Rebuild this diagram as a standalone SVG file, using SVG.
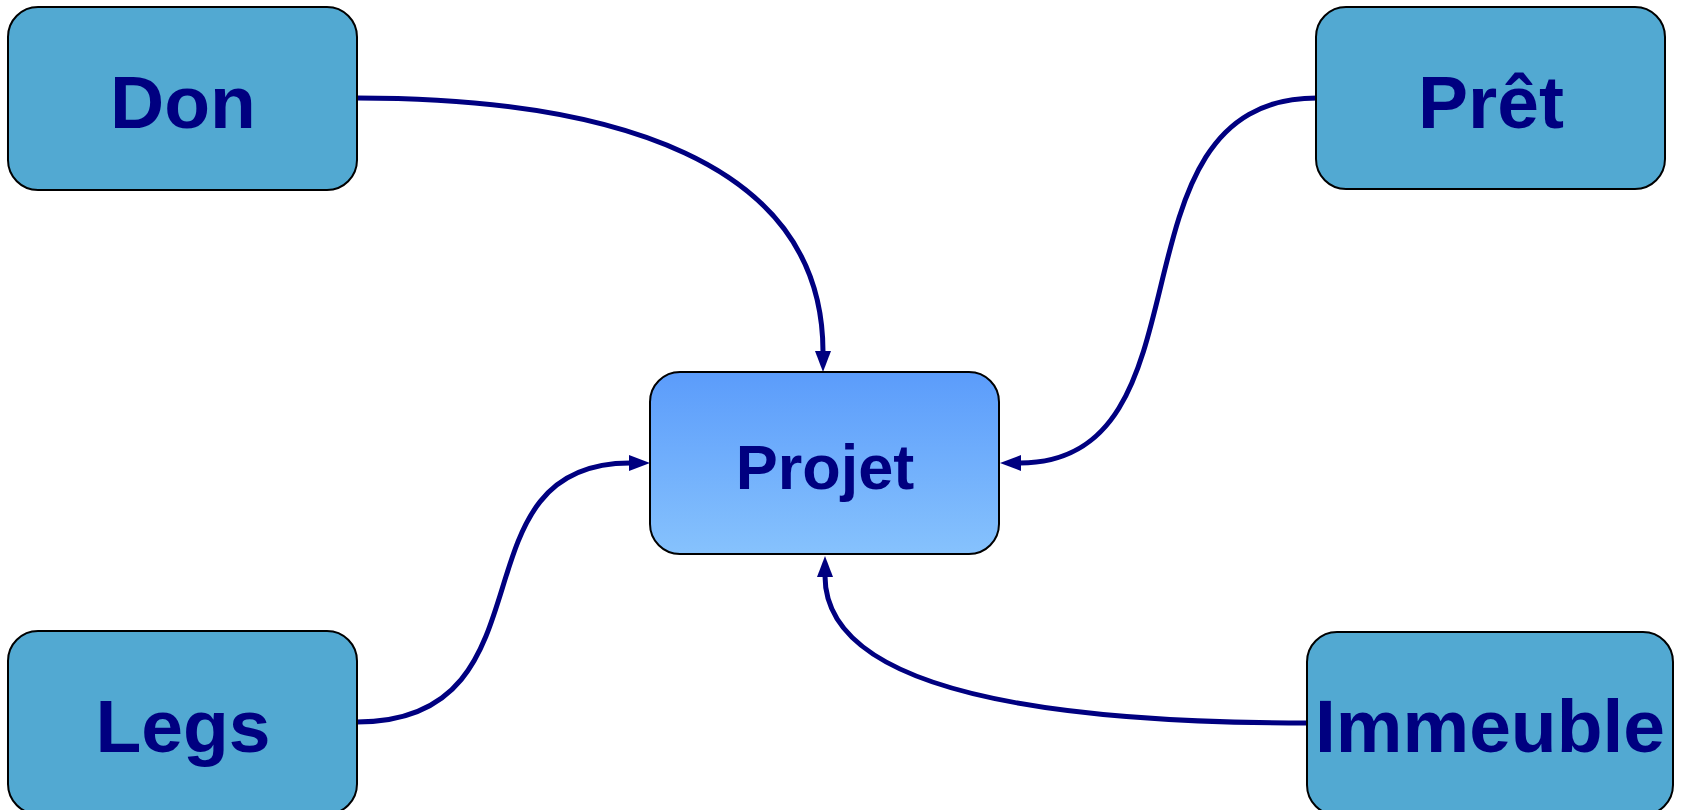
<svg xmlns="http://www.w3.org/2000/svg" width="1681" height="810" viewBox="0 0 1681 810">
<style>
.box{fill:#52a9d2;stroke:#000;stroke-width:2}
.lbl{font-family:"Liberation Sans",Arial,sans-serif;font-weight:bold;fill:#000080;text-anchor:middle}
.big{font-size:75px}
.mid{font-size:63px}
.conn{fill:none;stroke:#000080;stroke-width:5}
</style>
<defs>
<linearGradient id="pg" x1="0" y1="0" x2="0" y2="1">
<stop offset="0" stop-color="#5b9cfb"/>
<stop offset="1" stop-color="#86c2fd"/>
</linearGradient>
<marker id="ah" markerUnits="userSpaceOnUse" markerWidth="24" markerHeight="18" refX="1" refY="8" orient="auto" overflow="visible">
<path d="M0,0 L21,8 L0,16 Z" fill="#000080"/>
</marker>
</defs>
<rect width="1681" height="810" fill="#fff"/>
<g id="connectors">
<path class="conn" d="M357,98 C610,98 823,160 823,352" marker-end="url(#ah)"/>
<path class="conn" d="M1317,98 C1100,98 1220,463 1020,463" marker-end="url(#ah)"/>
<path class="conn" d="M357,722 C560,722 447,463 630,463" marker-end="url(#ah)"/>
<path class="conn" d="M1308,723 C990,723 825,675 825,576" marker-end="url(#ah)"/>
</g>
<g id="node-projet">
<rect x="650" y="372" width="349" height="182" rx="30" ry="30" fill="url(#pg)" stroke="#000" stroke-width="2"/>
<text class="lbl mid" x="825" y="489">Projet</text>
</g>
<g id="node-don">
<rect class="box" x="8" y="7" width="349" height="183" rx="30" ry="30"/>
<text class="lbl big" x="183" y="128">Don</text>
</g>
<g id="node-pret">
<rect class="box" x="1316" y="7" width="349" height="182" rx="30" ry="30"/>
<text class="lbl big" x="1491" y="128">Prêt</text>
</g>
<g id="node-legs">
<rect class="box" x="8" y="631" width="349" height="183" rx="30" ry="30"/>
<text class="lbl big" x="183" y="752">Legs</text>
</g>
<g id="node-immeuble">
<rect class="box" x="1307" y="632" width="366" height="183" rx="30" ry="30"/>
<text class="lbl big" x="1490" y="752">Immeuble</text>
</g>
</svg>
